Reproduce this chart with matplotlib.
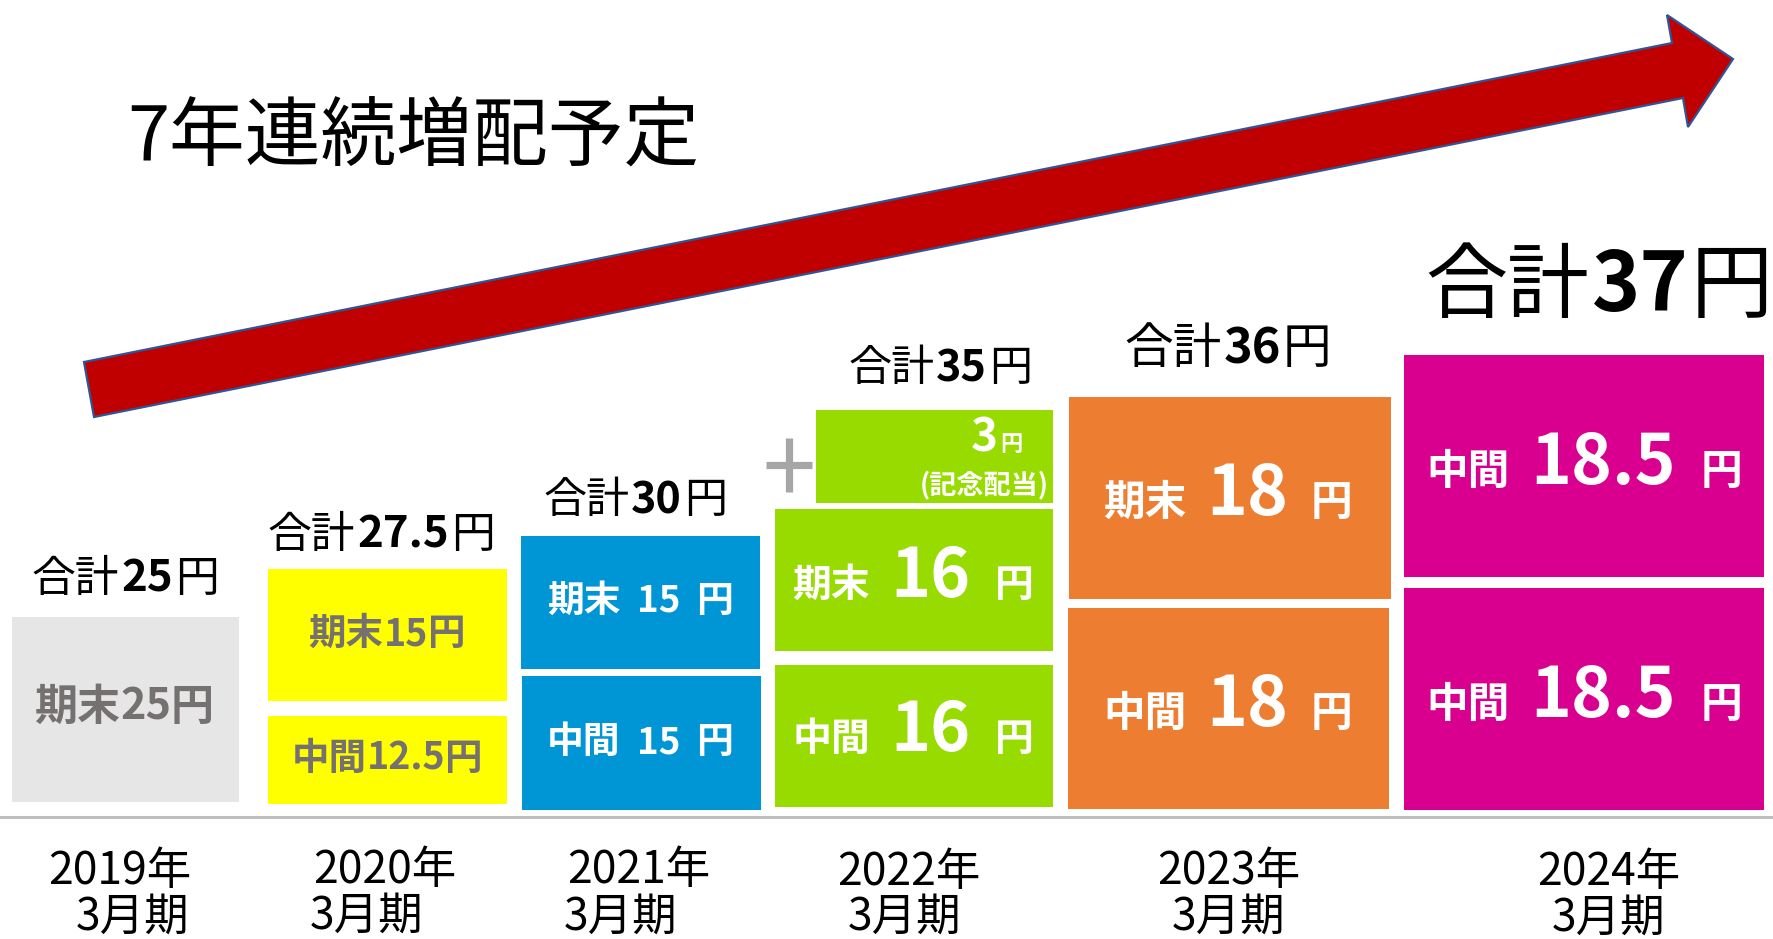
import matplotlib
matplotlib.use('Agg')
import matplotlib.pyplot as plt
from matplotlib.patches import Polygon

plt.rcParams['font.family'] = ['Noto Sans CJK JP', 'DejaVu Sans']

# ---------------- data ----------------
periods = ['2019年', '2020年', '2021年', '2022年', '2023年', '2024年']
period_suffix = '3月期'
totals = [25, 27.5, 30, 35, 36, 37]
year_end = [25, 15, 15, 16, 18, 18.5]          # upper box value
interim = [None, 12.5, 15, 16, 18, 18.5]       # lower box value
commemorative = [0, 0, 0, 3, 0, 0]
upper_labels = ['期末', '期末', '期末', '期末', '期末', '中間']
lower_label = '中間'
title = '7年連続増配予定'
total_prefix = '合計'
yen = '円'
commem_note = '(記念配当)'

box_colors = ['#E6E6E6', '#FFFF00', '#0096D6', '#97DB00', '#ED7D31', '#D90090']
text_colors = ['#767171', '#767171', 'white', 'white', 'white', 'white']

# ---------------- layout (pixel geometry of the infographic) ----------------
W, H = 1773, 939
upper_box = [(12, 239, 617, 802), (268, 507, 569, 701), (521, 760, 536, 669),
             (775, 1053, 509, 651), (1069, 1391, 397, 599), (1404, 1764, 355, 577)]
lower_box = [None, (268, 507, 716, 804), (522, 761, 676, 810),
             (775, 1053, 665, 807), (1068, 1389, 608, 809), (1404, 1764, 588, 810)]
commem_box = (816, 1053, 410, 503)

# label style per period: (center_x, upper_baseline, lower_baseline, small_size, big_size, gap1, gap2)
label_style = [(124, 720, None, 31, 31, 0, 0),
               (387, 645, 770, 27, 27, 0, 0),
               (640, 612, 753, 26.5, 26.5, 16, 16),
               (913, 597, 751, 28, 49, 20, 24),
               (1228, 515, 726, 30, 50, 19, 23),
               (1584, 484, 717, 30, 50, 21, 24)]
total_pos = [(125, 592, 31.5), (381, 548, 31.5), (635, 513, 31),
             (940, 381, 31), (1228, 363, 35), (1599, 311, 59)]
year_pos = [(120, 884, 133, 930), (385, 883, 367, 929), (639, 883, 621, 930),
            (909, 885, 905, 930), (1229, 884, 1229, 930), (1609, 885, 1609, 931)]
arrow_pts = [(84, 362), (1672, 43), (1667, 15), (1733, 59), (1688, 127), (1683, 98), (94, 417)]

fig = plt.figure(figsize=(W / 100, H / 100), dpi=100)
ax = fig.add_axes([0, 0, 1, 1])
ax.set_xlim(0, W)
ax.set_ylim(H, 0)
ax.axis('off')
renderer = fig.canvas.get_renderer()


def fmt(v):
    return f'{v:g}'


def rich(x, y, segs, ha='center'):
    """segs: list of (text, size, weight, color, gap_before_px)"""
    objs, widths = [], []
    for t, s, w, c, g in segs:
        o = ax.text(0, y, t, fontsize=s, fontweight=w, color=c, ha='left', va='baseline', zorder=3)
        widths.append(o.get_window_extent(renderer=renderer).width)
        objs.append(o)
    gaps = [g for *_, g in segs]
    total = sum(widths) + sum(gaps)
    if ha == 'center':
        cur = x - total / 2
    elif ha == 'right':
        cur = x - total
    else:
        cur = x
    for o, wdt, g in zip(objs, widths, gaps):
        cur += g
        o.set_x(cur)
        cur += wdt


# arrow
ax.add_patch(Polygon(arrow_pts, closed=True, facecolor='#C00000', edgecolor='#2F5597',
                     linewidth=1.6, zorder=1))

# baseline
ax.plot([0, W], [817, 817], color='#BFBFBF', lw=2.2, zorder=1)

# boxes
for i in range(len(periods)):
    x0, x1, y0, y1 = upper_box[i]
    ax.bar((x0 + x1) / 2, y1 - y0, width=x1 - x0, bottom=y0, color=box_colors[i], zorder=2)
    if lower_box[i] is not None:
        x0, x1, y0, y1 = lower_box[i]
        ax.bar((x0 + x1) / 2, y1 - y0, width=x1 - x0, bottom=y0, color=box_colors[i], zorder=2)
    if commemorative[i]:
        x0, x1, y0, y1 = commem_box
        ax.bar((x0 + x1) / 2, y1 - y0, width=x1 - x0, bottom=y0, color=box_colors[i], zorder=2)

# box labels
for i in range(len(periods)):
    cx, yu, yl, s_small, s_big, g1, g2 = label_style[i]
    tc = text_colors[i]
    rich(cx, yu, [(upper_labels[i], s_small, 'bold', tc, 0),
                  (fmt(year_end[i]), s_big, 'bold', tc, g1),
                  (yen, s_small, 'bold', tc, g2)])
    if interim[i] is not None:
        rich(cx, yl, [(lower_label, s_small, 'bold', tc, 0),
                      (fmt(interim[i]), s_big, 'bold', tc, g1),
                      (yen, s_small, 'bold', tc, g2)])

# commemorative dividend labels
ci = commemorative.index(max(commemorative))
rich(1023, 451, [(fmt(commemorative[ci]), 33, 'bold', 'white', 0),
                 (yen, 16, 'bold', 'white', 3)], ha='right')
ax.text(1049, 493, commem_note, fontsize=19.5, fontweight='bold', color='white',
        ha='right', va='baseline', zorder=3)

# plus sign
ax.plot([766, 812], [465, 465], color='#A6A6A6', lw=5.2, solid_capstyle='butt', zorder=2)
ax.plot([789, 789], [438, 492], color='#A6A6A6', lw=5.2, solid_capstyle='butt', zorder=2)

# totals
for i, t in enumerate(totals):
    cx, by, s = total_pos[i]
    rich(cx, by, [(total_prefix, s, 'normal', 'black', 0),
                  (fmt(t), s, 'bold', 'black', 2),
                  (yen, s, 'normal', 'black', 2)])

# period labels
for i, p in enumerate(periods):
    x1, b1, x2, b2 = year_pos[i]
    ax.text(x1, b1, p, fontsize=32, ha='center', va='baseline', color='black')
    ax.text(x2, b2, period_suffix, fontsize=32, ha='center', va='baseline', color='black')

# title
ax.text(127, 161, title, fontsize=54.5, ha='left', va='baseline', color='black')

fig.savefig('out.png', dpi=100)
